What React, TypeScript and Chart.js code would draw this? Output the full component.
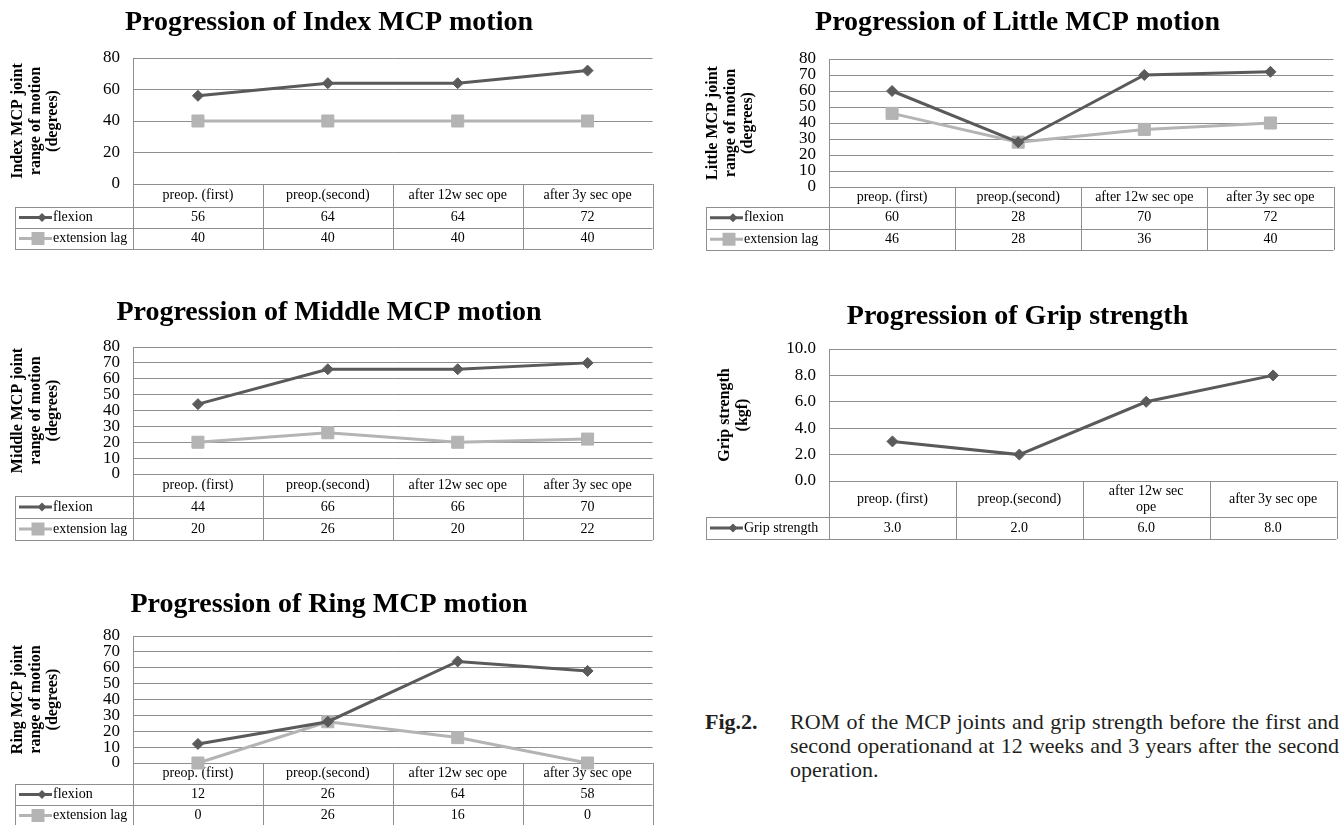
import React, { useEffect, useRef } from 'react';
import { Chart, registerables } from 'chart.js';

Chart.register(...registerables);

// ---------- data ----------
const categories = ['preop. (first)', 'preop.(second)', 'after 12w sec ope', 'after 3y sec ope'];
const gripHeaderLabels = ['preop. (first)', 'preop.(second)', 'after 12w sec\nope', 'after 3y sec ope'];

const indexFlexion = [56, 64, 64, 72];
const indexExtensionLag = [40, 40, 40, 40];
const littleFlexion = [60, 28, 70, 72];
const littleExtensionLag = [46, 28, 36, 40];
const middleFlexion = [44, 66, 66, 70];
const middleExtensionLag = [20, 26, 20, 22];
const ringFlexion = [12, 26, 64, 58];
const ringExtensionLag = [0, 26, 16, 0];
const gripStrength = [3.0, 2.0, 6.0, 8.0];

const seriesFlexion = 'flexion';
const seriesExtensionLag = 'extension lag';
const seriesGrip = 'Grip strength';

// ---------- styles ----------
const SERIF = "'Liberation Serif', 'Times New Roman', serif";
const DARK = '#5a5a5a';
const LIGHT = '#b4b4b4';
const GRID = '#8e8e8e';

type Series = { name: string; values: number[]; color: string; style: 'rectRot' | 'rect' };

type PanelCfg = {
  title: string;
  yTitle: string[];
  series: Series[];
  headers: string[];
  yMax: number;
  yStep: number;
  decimals: number;
  left: number; top: number; width: number; height: number;
  plotLeft: number; plotRight: number; plotTop: number; plotBottom: number;
  titleY: number;
  yTitleX: number;
  tableLeft: number;
  headerH: number;
  rowH: number;
};

const mcpSeries = (flex: number[], ext: number[]): Series[] => [
  { name: seriesFlexion, values: flex, color: DARK, style: 'rectRot' },
  { name: seriesExtensionLag, values: ext, color: LIGHT, style: 'rect' },
];

const panels: PanelCfg[] = [
  {
    title: 'Progression of Index MCP motion',
    yTitle: ['Index MCP joint', 'range of motion', '(degrees)'],
    series: mcpSeries(indexFlexion, indexExtensionLag),
    headers: categories, yMax: 80, yStep: 20, decimals: 0,
    left: 0, top: 0, width: 662, height: 256,
    plotLeft: 133, plotRight: 658, plotTop: 58, plotBottom: 184,
    titleY: 23, yTitleX: 18, tableLeft: 15, headerH: 23, rowH: 21,
  },
  {
    title: 'Progression of Little MCP motion',
    yTitle: ['Little MCP joint', 'range of motion', '(degrees)'],
    series: mcpSeries(littleFlexion, littleExtensionLag),
    headers: categories, yMax: 80, yStep: 10, decimals: 0,
    left: 694, top: 0, width: 649, height: 256,
    plotLeft: 829, plotRight: 1341, plotTop: 59, plotBottom: 187,
    titleY: 23, yTitleX: 713, tableLeft: 706, headerH: 20, rowH: 21.5,
  },
  {
    title: 'Progression of Middle MCP motion',
    yTitle: ['Middle MCP joint', 'range of motion', '(degrees)'],
    series: mcpSeries(middleFlexion, middleExtensionLag),
    headers: categories, yMax: 80, yStep: 10, decimals: 0,
    left: 0, top: 280, width: 662, height: 266,
    plotLeft: 133, plotRight: 658, plotTop: 347, plotBottom: 474,
    titleY: 313, yTitleX: 18, tableLeft: 15, headerH: 22, rowH: 22,
  },
  {
    title: 'Progression of Grip strength',
    yTitle: ['Grip strength', '(kgf)'],
    series: [{ name: seriesGrip, values: gripStrength, color: DARK, style: 'rectRot' }],
    headers: gripHeaderLabels, yMax: 10, yStep: 2, decimals: 1,
    left: 694, top: 280, width: 649, height: 266,
    plotLeft: 829, plotRight: 1341, plotTop: 349, plotBottom: 481,
    titleY: 317, yTitleX: 725, tableLeft: 706, headerH: 36, rowH: 22,
  },
  {
    title: 'Progression of Ring MCP motion',
    yTitle: ['Ring MCP joint', 'range of motion', '(degrees)'],
    series: mcpSeries(ringFlexion, ringExtensionLag),
    headers: categories, yMax: 80, yStep: 10, decimals: 0,
    left: 0, top: 570, width: 662, height: 255,
    plotLeft: 133, plotRight: 658, plotTop: 636, plotBottom: 763,
    titleY: 605, yTitleX: 18, tableLeft: 15, headerH: 21, rowH: 21,
  },
];

const TITLE_SIZE = 28;
const TITLE_LH = 1.2;
const YT_SIZE = 16;
const YT_LH = 1.1;

function drawMarker(ctx: CanvasRenderingContext2D, style: string, x: number, y: number, r: number, color: string) {
  ctx.fillStyle = color;
  ctx.beginPath();
  if (style === 'rectRot') {
    ctx.moveTo(x - r, y);
    ctx.lineTo(x, y - r);
    ctx.lineTo(x + r, y);
    ctx.lineTo(x, y + r);
    ctx.closePath();
  } else {
    ctx.rect(x - r, y - r, 2 * r, 2 * r);
  }
  ctx.fill();
}

const tablePlugin = {
  id: 'dataTable',
  beforeDatasetsDraw(chart: any, _args: any, opts: any) {
    const { ctx, chartArea } = chart;
    const xs = chart.scales.x;
    const n = chart.data.labels.length;
    const colW = (chartArea.right - chartArea.left) / n;
    const top = chartArea.bottom;
    const headerH: number = opts.headerH;
    const rowH: number = opts.rowH;
    const left: number = opts.left;
    const right = chartArea.right;
    const series: Series[] = opts.series;
    const headers: string[] = opts.headers;
    const bottom = top + headerH + rowH * series.length;
    const crisp = (v: number) => Math.round(v) + 0.5;

    ctx.save();
    ctx.strokeStyle = GRID;
    ctx.lineWidth = 1;
    ctx.beginPath();
    ctx.moveTo(chartArea.left, crisp(top));
    ctx.lineTo(right, crisp(top));
    for (let r = 0; r <= series.length; r++) {
      const y = crisp(top + headerH + r * rowH);
      ctx.moveTo(left, y);
      ctx.lineTo(right, y);
    }
    ctx.moveTo(crisp(left), top + headerH);
    ctx.lineTo(crisp(left), bottom);
    for (let i = 0; i <= n; i++) {
      const x = i < n ? xs.getPixelForValue(i) - colW / 2 : xs.getPixelForValue(n - 1) + colW / 2;
      ctx.moveTo(crisp(x), top);
      ctx.lineTo(crisp(x), bottom);
    }
    ctx.stroke();

    ctx.fillStyle = '#000';
    ctx.font = `14px ${SERIF}`;
    ctx.textAlign = 'center';
    ctx.textBaseline = 'middle';
    headers.forEach((h, i) => {
      const lines = h.split('\n');
      const cx = xs.getPixelForValue(i);
      const lh = 16;
      const cy0 = top + headerH / 2 - ((lines.length - 1) * lh) / 2;
      lines.forEach((ln, k) => ctx.fillText(ln, cx, cy0 + k * lh));
    });

    series.forEach((s, r) => {
      const cy = top + headerH + r * rowH + rowH / 2;
      ctx.strokeStyle = s.color;
      ctx.lineWidth = 3;
      ctx.beginPath();
      ctx.moveTo(left + 4, cy);
      ctx.lineTo(left + 37, cy);
      ctx.stroke();
      if (s.style === 'rect') drawMarker(ctx, s.style, left + 23, cy, 6.5, s.color);
      else drawMarker(ctx, s.style, left + 27, cy, 4.5, s.color);
      ctx.fillStyle = '#000';
      ctx.textAlign = 'left';
      ctx.fillText(s.name, left + 38, cy);
      ctx.textAlign = 'center';
      s.values.forEach((v, i) => {
        ctx.fillText(v.toFixed(opts.decimals), xs.getPixelForValue(i), cy);
      });
    });
    ctx.restore();
  },
};

function Panel({ cfg }: { cfg: PanelCfg }) {
  const ref = useRef<HTMLCanvasElement | null>(null);
  useEffect(() => {
    if (!ref.current) return;
    const titleLH = TITLE_SIZE * TITLE_LH;
    const ytLH = YT_SIZE * YT_LH;
    const chart = new Chart(ref.current, {
      type: 'line',
      data: {
        labels: categories,
        datasets: cfg.series.map((s) => ({
          label: s.name,
          data: s.values,
          borderColor: s.color,
          backgroundColor: s.color,
          borderWidth: 3,
          pointStyle: s.style,
          pointRadius: s.style === 'rect' ? 8.5 : 5.5,
          pointBorderWidth: 1,
          pointBorderColor: s.color,
          pointBackgroundColor: s.color,
          tension: 0,
          clip: false as any,
        })),
      },
      options: {
        responsive: false,
        animation: false,
        devicePixelRatio: 1,
        layout: {
          padding: {
            top: 0,
            left: 0,
            right: cfg.left + cfg.width - cfg.plotRight,
            bottom: cfg.top + cfg.height - cfg.plotBottom,
          },
        },
        plugins: {
          legend: { display: false },
          tooltip: { enabled: false },
          title: {
            display: true,
            text: cfg.title,
            color: '#000',
            font: { family: SERIF, size: TITLE_SIZE, weight: 'bold', lineHeight: TITLE_LH },
            padding: {
              top: cfg.titleY - cfg.top - titleLH / 2,
              bottom: cfg.plotTop - cfg.titleY - titleLH / 2,
            },
          },
          dataTable: {
            headerH: cfg.headerH,
            rowH: cfg.rowH,
            left: cfg.tableLeft - cfg.left,
            series: cfg.series,
            headers: cfg.headers,
            decimals: cfg.decimals,
          },
        } as any,
        scales: {
          x: { type: 'category', display: false, offset: true },
          y: {
            min: 0,
            max: cfg.yMax,
            afterFit: (scale: any) => {
              scale.width = cfg.plotLeft - cfg.left;
            },
            ticks: {
              stepSize: cfg.yStep,
              autoSkip: false,
              color: '#000',
              padding: 13,
              font: { family: SERIF, size: 17 },
              callback: (v: any) => Number(v).toFixed(cfg.decimals),
            },
            grid: { color: GRID, lineWidth: 1, drawTicks: false },
            border: { display: true, color: GRID, width: 1 },
            title: {
              display: true,
              text: cfg.yTitle,
              color: '#000',
              font: { family: SERIF, size: YT_SIZE, weight: 'bold', lineHeight: YT_LH },
              padding: { top: cfg.yTitleX - cfg.left - ytLH / 2, bottom: 0 },
            },
          },
        },
      },
      plugins: [tablePlugin],
    });
    return () => chart.destroy();
  }, [cfg]);
  return (
    <div style={{ position: 'absolute', left: cfg.left, top: cfg.top, width: cfg.width, height: cfg.height }}>
      <canvas ref={ref} width={cfg.width} height={cfg.height} style={{ display: 'block' }} />
    </div>
  );
}

const captionLabel = 'Fig.2.';
const captionLines = [
  'ROM of the MCP joints and grip strength before the first and',
  'second operationand at 12 weeks and 3 years after the second',
  'operation.',
];

export default function App() {
  return (
    <div style={{ position: 'absolute', left: 0, top: 0, width: 1343, height: 825, background: '#fff', overflow: 'hidden' }}>
      {panels.map((p) => (
        <Panel key={p.title} cfg={p} />
      ))}
      <div style={{ position: 'absolute', left: 705, top: 710, fontFamily: SERIF, fontSize: 22, lineHeight: '24px', fontWeight: 'bold', color: '#231f20' }}>
        {captionLabel}
      </div>
      <div style={{ position: 'absolute', left: 790, top: 710, width: 549, fontFamily: SERIF, fontSize: 22, lineHeight: '24px', color: '#231f20' }}>
        {captionLines.map((ln, i) => (
          <div key={i} style={{ textAlign: 'justify', textAlignLast: i < captionLines.length - 1 ? 'justify' : 'left', whiteSpace: 'nowrap' } as any}>
            {ln}
          </div>
        ))}
      </div>
    </div>
  );
}
